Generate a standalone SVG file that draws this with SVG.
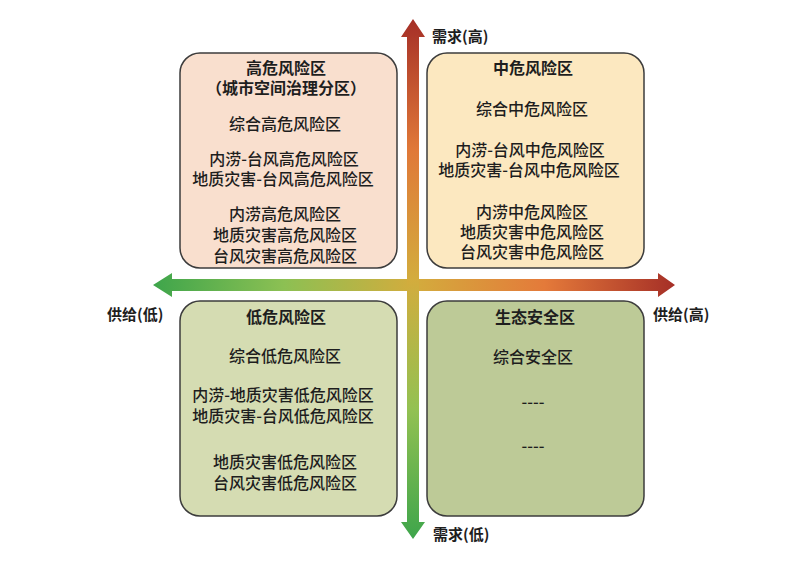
<svg xmlns="http://www.w3.org/2000/svg" width="800" height="565" viewBox="0 0 800 565">
<defs>
<linearGradient id="gv" gradientUnits="userSpaceOnUse" x1="0" y1="19" x2="0" y2="539">
<stop offset="0" stop-color="#a52f27"/>
<stop offset="0.25" stop-color="#e07838"/>
<stop offset="0.5" stop-color="#d3ac3d"/>
<stop offset="0.75" stop-color="#93c152"/>
<stop offset="1" stop-color="#3ea54b"/>
</linearGradient>
<linearGradient id="gh" gradientUnits="userSpaceOnUse" x1="153" y1="0" x2="675" y2="0">
<stop offset="0" stop-color="#3ea54b"/>
<stop offset="0.25" stop-color="#8cc053"/>
<stop offset="0.5" stop-color="#d3ac3d"/>
<stop offset="0.75" stop-color="#e47a3a"/>
<stop offset="1" stop-color="#a52f27"/>
</linearGradient>
<style>
.box{stroke:#3c3c3c;stroke-width:1.5}
.t{font-family:"Noto Sans CJK SC","Noto Sans",sans-serif;font-size:16px;fill:#1e1e1e;text-anchor:middle;dominant-baseline:central;font-weight:500}
.h{font-weight:700}
.ax{font-family:"Noto Sans CJK SC","Noto Sans",sans-serif;font-size:15px;font-weight:700;fill:#1e1e1e;dominant-baseline:central}
</style>
</defs>
<rect width="800" height="565" fill="#ffffff"/>
<g id="connectors">
<path d="M172,279 H658 V273 L675,285 L658,297 V291 H172 V297 L153,285 L172,273 Z" fill="url(#gh)"/>
<path d="M407,37 H401 L413,19 L425,37 H419 V522 H425 L413,539 L401,522 H407 Z" fill="url(#gv)"/>
</g>
<g id="high-risk">
<rect class="box" x="180" y="53" width="217" height="215" rx="20" fill="#f9dfce"/>
<text class="t h" x="286" y="67">高危风险区</text>
<text class="t h" x="286" y="87">（城市空间治理分区）</text>
<text class="t" x="285" y="123">综合高危风险区</text>
<text class="t" x="284" y="158">内涝-台风高危风险区</text>
<text class="t" x="283" y="178">地质灾害-台风高危风险区</text>
<text class="t" x="285" y="213">内涝高危风险区</text>
<text class="t" x="285" y="234">地质灾害高危风险区</text>
<text class="t" x="285" y="255">台风灾害高危风险区</text>
</g>
<g id="mid-risk">
<rect class="box" x="427" y="53" width="217" height="215" rx="20" fill="#fce8c0"/>
<text class="t h" x="533" y="67">中危风险区</text>
<text class="t" x="532" y="108">综合中危风险区</text>
<text class="t" x="530" y="149">内涝-台风中危风险区</text>
<text class="t" x="529" y="169">地质灾害-台风中危风险区</text>
<text class="t" x="532" y="211">内涝中危风险区</text>
<text class="t" x="532" y="231">地质灾害中危风险区</text>
<text class="t" x="532" y="251">台风灾害中危风险区</text>
</g>
<g id="low-risk">
<rect class="box" x="180" y="301" width="217" height="215" rx="20" fill="#d5dcb2"/>
<text class="t h" x="286" y="316">低危风险区</text>
<text class="t" x="285" y="355">综合低危风险区</text>
<text class="t" x="283" y="394">内涝-地质灾害低危风险区</text>
<text class="t" x="283" y="415">地质灾害-台风低危风险区</text>
<text class="t" x="285" y="461">地质灾害低危风险区</text>
<text class="t" x="285" y="482">台风灾害低危风险区</text>
</g>
<g id="eco-safe">
<rect class="box" x="427" y="301" width="217" height="215" rx="20" fill="#bdca97"/>
<text class="t h" x="535" y="316">生态安全区</text>
<text class="t" x="533" y="356">综合安全区</text>
<text class="t" x="533" y="401">----</text>
<text class="t" x="533" y="445">----</text>
</g>
<g id="axis-labels">
<text class="ax" x="432" y="35">需求(高)</text>
<text class="ax" x="433" y="533">需求(低)</text>
<text class="ax" x="107" y="313">供给(低)</text>
<text class="ax" x="653" y="313">供给(高)</text>
</g>
</svg>
